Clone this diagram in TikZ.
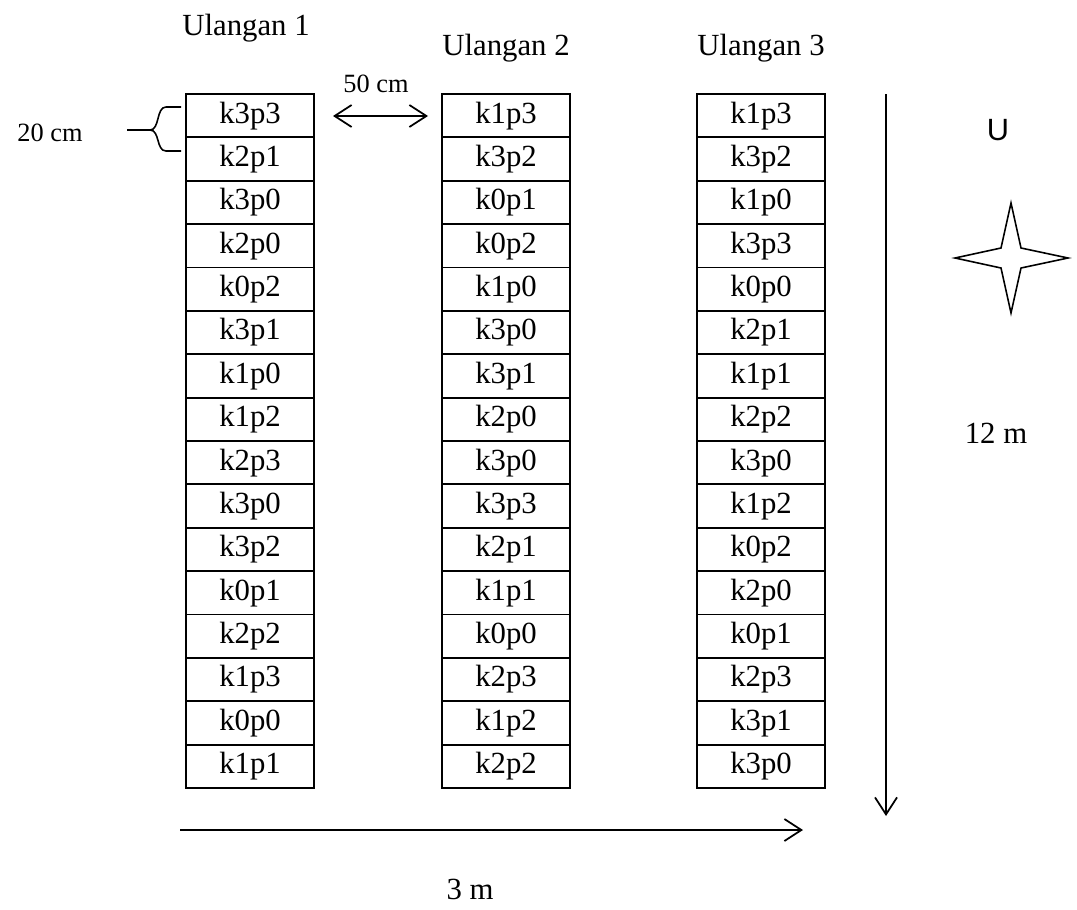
\documentclass[tikz,border=0pt]{standalone}
\usepackage{fontspec}
\setmainfont{Liberation Serif}
\newfontfamily\arialfont{Liberation Sans}
\usetikzlibrary{arrows.meta}

\tikzset{
  plot/.style={draw, line width=1pt, minimum width=2.56cm, minimum height=0.8675cm,
    inner sep=0pt, font=\fontsize{17.5}{20}\selectfont},
  lbl/.style={font=\fontsize{17.5}{20}\selectfont},
  small/.style={font=\fontsize{15}{18}\selectfont},
  dim/.style={line width=1pt, -{Straight Barb[length=3.4mm,width=4.4mm]}},
  dimboth/.style={line width=1pt, {Straight Barb[length=3.4mm,width=4.4mm]}-{Straight Barb[length=3.4mm,width=4.4mm]}},
}

\begin{document}
\begin{tikzpicture}[x=0.02cm, y=-0.02cm]
  \useasboundingbox (0,0) rectangle (1077,909);

  % column titles
  \node[lbl] (u1) at (246,28) {Ulangan 1};
  \node[lbl] (u2) at (506,48) {Ulangan 2};
  \node[lbl] (u3) at (761,48) {Ulangan 3};

  % plots, row by row
  \foreach \lab [count=\i] in {k3p3,k2p1,k3p0,k2p0,k0p2,k3p1,k1p0,k1p2,k2p3,k3p0,k3p2,k0p1,k2p2,k1p3,k0p0,k1p1}
    \node[plot] (a\i) at (250,{94+43.375*(\i-0.5)}) {\lab};
  \foreach \lab [count=\i] in {k1p3,k3p2,k0p1,k0p2,k1p0,k3p0,k3p1,k2p0,k3p0,k3p3,k2p1,k1p1,k0p0,k2p3,k1p2,k2p2}
    \node[plot] (b\i) at (506,{94+43.375*(\i-0.5)}) {\lab};
  \foreach \lab [count=\i] in {k1p3,k3p2,k1p0,k3p3,k0p0,k2p1,k1p1,k2p2,k3p0,k1p2,k0p2,k2p0,k0p1,k2p3,k3p1,k3p0}
    \node[plot] (c\i) at (761,{94+43.375*(\i-0.5)}) {\lab};

  % spacing between columns
  \coordinate (gapL) at (333,116);
  \coordinate (gapR) at (428,116);
  \draw[dimboth] (gapL) -- (gapR);
  \node[small] (gap) at (376,84) {50 cm};

  % plot height
  \draw[line width=0.9pt] (181,107) -- (166,107) .. controls (156,107) and (160,130) .. (150,130) -- (127,130);
  \draw[line width=0.9pt] (150,130) .. controls (160,130) and (156,151) .. (166,151) -- (181,151);
  \node[small] (h) at (50,133) {20 cm};

  % length and width
  \coordinate (lenT) at (886,94);
  \coordinate (lenB) at (886,816);
  \draw[dim] (lenT) -- (lenB);
  \node[lbl] (len) at (996,433) {12 m};

  \coordinate (widL) at (180,830);
  \coordinate (widR) at (803,830);
  \draw[dim] (widL) -- (widR);
  \node[lbl] (wid) at (470,889) {3 m};

  % north
  \node[lbl, font=\arialfont\fontsize{17.5}{20}\selectfont] (north) at (998,130) {U};
  \draw[line width=0.9pt] (1011,203) -- (1021,248) -- (1068,258) -- (1021,268) -- (1011,313)
    -- (1001,268) -- (955,258) -- (1001,248) -- cycle;
\end{tikzpicture}
\end{document}
